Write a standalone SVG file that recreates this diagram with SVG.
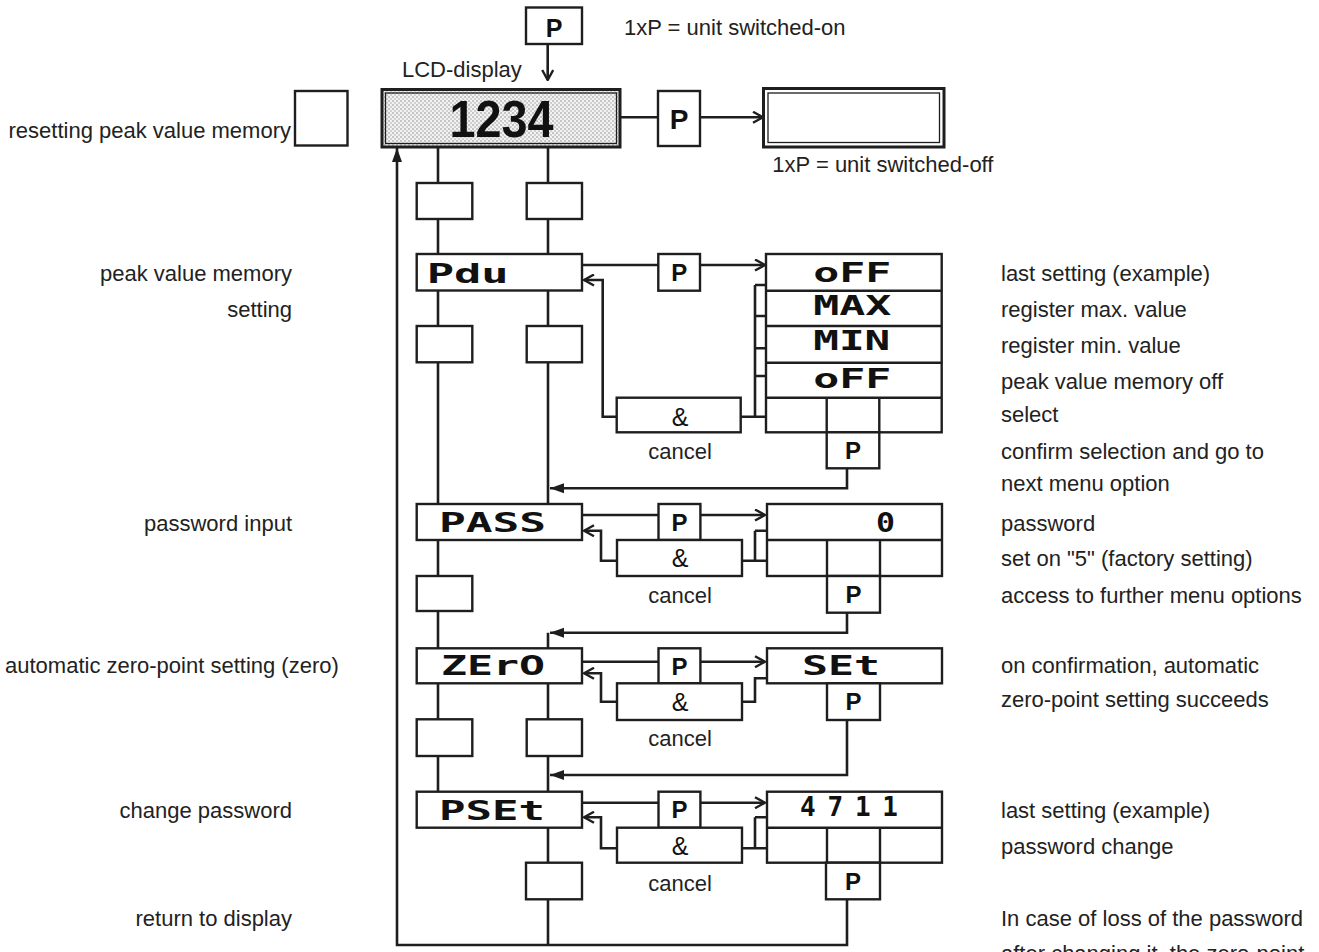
<svg xmlns="http://www.w3.org/2000/svg" width="1319" height="952" viewBox="0 0 1319 952">
<style>
.ln{fill:none;stroke:#1e1e1e;stroke-width:2.6}
.bx{fill:#fff;stroke:#1e1e1e;stroke-width:2.4}
.in{fill:none;stroke:#1e1e1e;stroke-width:1.3}
.t{font-family:"Liberation Sans",Arial,sans-serif;font-size:22px;fill:#222}
.e{text-anchor:end}
.c{text-anchor:middle}
.pk{font-family:"Liberation Sans",Arial,sans-serif;font-size:24px;font-weight:bold;fill:#111;text-anchor:middle}
.amp{font-family:"Liberation Sans",Arial,sans-serif;font-size:25px;fill:#111;text-anchor:middle}
.seg{font-family:"DejaVu Sans Mono",monospace;font-weight:bold;font-size:26px;fill:#111}
</style>
<defs>
<pattern id="dots" width="4" height="4" patternUnits="userSpaceOnUse">
<rect width="4" height="4" fill="#f2f2f2"/>
<circle cx="1" cy="1" r="0.8" fill="#8c8c8c"/>
<circle cx="3" cy="3" r="0.8" fill="#a6a6a6"/>
</pattern>
<marker id="open" markerUnits="userSpaceOnUse" markerWidth="13" markerHeight="13" viewBox="0 0 13 13" refX="12" refY="6.5" orient="auto">
<path d="M2,1 L12,6.5 L2,12" fill="none" stroke="#1e1e1e" stroke-width="2.4"/>
</marker>
<marker id="fill" markerUnits="userSpaceOnUse" markerWidth="16" markerHeight="12" viewBox="0 0 16 12" refX="15" refY="6" orient="auto">
<path d="M1,1 L15,6 L1,11 z" fill="#1e1e1e"/>
</marker>
</defs>
<rect width="1319" height="952" fill="#fff"/>

<g id="connectors">
<path class="ln" d="M547.7,44 V80" marker-end="url(#open)"/>
<path class="ln" d="M620,117.3 H658"/>
<path class="ln" d="M700,117.3 H763" marker-end="url(#open)"/>
<path class="ln" d="M438,147 V791.7"/>
<path class="ln" d="M548,147 V504"/>
<path class="ln" d="M548,632.7 V945"/>
<path class="ln" d="M847,899.3 V945 H397 V148" marker-end="url(#fill)"/>
<path class="ln" d="M582,265 H658.3"/>
<path class="ln" d="M700,265 H765" marker-end="url(#open)"/>
<path class="ln" d="M616.7,416.7 H602.7 V280 H584" marker-end="url(#open)"/>
<path class="ln" d="M740.7,416.7 H766 M755,285 V416.7 M755,285 H766 M755,316 H766 M755,348.3 H766 M755,376 H766"/>
<path class="ln" d="M847,468.3 V488.3 H550" marker-end="url(#fill)"/>
<path class="ln" d="M582,515 H658.5"/>
<path class="ln" d="M700.4,515 H765" marker-end="url(#open)"/>
<path class="ln" d="M617,560.7 H601 V530.7 H584" marker-end="url(#open)"/>
<path class="ln" d="M742,560.7 H767 M755,530.7 V560.7 M755,530.7 H767"/>
<path class="ln" d="M847,612.7 V632.7 H550" marker-end="url(#fill)"/>
<path class="ln" d="M582,661.7 H658.5"/>
<path class="ln" d="M700.4,661.7 H765" marker-end="url(#open)"/>
<path class="ln" d="M617,701.7 H601 V673.3 H584" marker-end="url(#open)"/>
<path class="ln" d="M742,701.7 H755 V678.3 H767"/>
<path class="ln" d="M847,720 V775 H550" marker-end="url(#fill)"/>
<path class="ln" d="M582,802.7 H658.5"/>
<path class="ln" d="M700.4,802.7 H765" marker-end="url(#open)"/>
<path class="ln" d="M617,848.3 H601 V817.3 H584" marker-end="url(#open)"/>
<path class="ln" d="M742,848.3 H767 M755,817.3 V848.3 M755,817.3 H767"/>
</g>

<g id="top-p"><rect class="bx" x="526" y="7.5" width="56" height="36.5"/><text class="pk" x="554" y="37" style="font-size:25px">P</text></g>
<g id="lcd">
<rect x="382" y="89.5" width="238" height="57.5" fill="url(#dots)" stroke="#1e1e1e" stroke-width="3"/>
<rect class="in" x="385.5" y="93" width="231" height="50.5"/>
<text x="449.6" y="137.3" textLength="104" lengthAdjust="spacingAndGlyphs" style="font-family:'Liberation Sans',Arial,sans-serif;font-size:52px;font-weight:bold;fill:#111">1234</text>
</g>
<g id="p-off"><rect class="bx" x="658" y="91" width="42" height="55"/><text class="pk" x="679" y="129" style="font-size:28px">P</text></g>
<g id="off-box">
<rect x="763.5" y="88.5" width="180.5" height="58.5" fill="#fff" stroke="#1e1e1e" stroke-width="3"/>
<rect class="in" x="768" y="93" width="171.5" height="49.5"/>
</g>
<g id="reset-box"><rect class="bx" x="295" y="91" width="52.5" height="54.5"/></g>

<g id="col-boxes">
<rect class="bx" x="416.7" y="183" width="55.6" height="36"/>
<rect class="bx" x="526.7" y="183" width="55.3" height="36"/>
<rect class="bx" x="416.7" y="326" width="55.6" height="36.3"/>
<rect class="bx" x="526.7" y="326" width="55.3" height="36.3"/>
<rect class="bx" x="416.7" y="576" width="55.6" height="35"/>
<rect class="bx" x="416.7" y="719.3" width="55.6" height="36.7"/>
<rect class="bx" x="526.7" y="719.3" width="55.3" height="36.7"/>
<rect class="bx" x="526" y="862.7" width="56" height="36.6"/>
</g>

<g id="pdu">
<rect class="bx" x="416.7" y="254" width="165.3" height="36.5"/>
<text class="seg" x="426.7" y="282.7" textLength="82" lengthAdjust="spacingAndGlyphs">Pdu</text>
</g>
<g id="pdu-p"><rect class="bx" x="658.3" y="254" width="41.7" height="36.7"/><text class="pk" x="679.2" y="281">P</text></g>
<g id="pdu-and"><rect class="bx" x="616.7" y="397.7" width="124" height="34.6"/><text class="amp" x="680" y="426">&amp;</text></g>
<g id="pdu-opts">
<rect class="bx" x="766" y="254" width="175.7" height="178.3"/>
<path class="ln" d="M766,290.7 H941.7 M766,326 H941.7 M766,362.7 H941.7 M766,397.7 H941.7 M826.7,397.7 V432.3 M879.3,397.7 V432.3" style="stroke-width:2.4"/>
<text class="seg" x="813.3" y="281.7" textLength="78" lengthAdjust="spacingAndGlyphs">oFF</text>
<text class="seg" x="813.3" y="315" textLength="78" lengthAdjust="spacingAndGlyphs">MAX</text>
<text class="seg" x="813.3" y="350" textLength="77" lengthAdjust="spacingAndGlyphs">MIN</text>
<text class="seg" x="813.3" y="388" textLength="78" lengthAdjust="spacingAndGlyphs">oFF</text>
</g>
<g id="pdu-p2"><rect class="bx" x="826.7" y="432.3" width="52.6" height="36"/><text class="pk" x="853" y="459">P</text></g>

<g id="pass">
<rect class="bx" x="416.7" y="504" width="165.3" height="36"/>
<text class="seg" x="439" y="531.7" textLength="107" lengthAdjust="spacingAndGlyphs">PASS</text>
</g>
<g id="pass-p"><rect class="bx" x="658.5" y="504" width="41.9" height="36"/><text class="pk" x="679.4" y="530.6">P</text></g>
<g id="pass-and"><rect class="bx" x="617" y="540" width="125" height="36"/><text class="amp" x="680" y="567">&amp;</text></g>
<g id="pass-opts">
<rect class="bx" x="767" y="504" width="175" height="72"/>
<path class="ln" d="M767,540 H942 M827,540 V576 M880,540 V576" style="stroke-width:2.4"/>
<text class="seg" x="876" y="531.7" textLength="19" lengthAdjust="spacingAndGlyphs">0</text>
</g>
<g id="pass-p2"><rect class="bx" x="827" y="576" width="53" height="36.7"/><text class="pk" x="853.5" y="603">P</text></g>

<g id="zero">
<rect class="bx" x="416.7" y="648.3" width="165.3" height="35"/>
<text class="seg" x="441" y="675" textLength="104" lengthAdjust="spacingAndGlyphs">ZErO</text>
</g>
<g id="zero-p"><rect class="bx" x="658.5" y="648.3" width="41.9" height="35"/><text class="pk" x="679.4" y="674.5">P</text></g>
<g id="zero-and"><rect class="bx" x="617" y="683.3" width="125" height="36.7"/><text class="amp" x="680" y="711">&amp;</text></g>
<g id="zero-set">
<rect class="bx" x="767" y="648.3" width="175" height="35"/>
<text class="seg" x="802" y="675" textLength="78" lengthAdjust="spacingAndGlyphs">SEt</text>
</g>
<g id="zero-p2"><rect class="bx" x="827" y="683.3" width="53" height="36.7"/><text class="pk" x="853.5" y="710.3">P</text></g>

<g id="pset">
<rect class="bx" x="416.7" y="791.7" width="165.3" height="36"/>
<text class="seg" x="439" y="820" textLength="106" lengthAdjust="spacingAndGlyphs">PSEt</text>
</g>
<g id="pset-p"><rect class="bx" x="658.5" y="791.7" width="41.9" height="36"/><text class="pk" x="679.4" y="818.3">P</text></g>
<g id="pset-and"><rect class="bx" x="617" y="827.7" width="125" height="35"/><text class="amp" x="680" y="854.5">&amp;</text></g>
<g id="pset-opts">
<rect class="bx" x="767" y="791.7" width="175" height="71"/>
<path class="ln" d="M767,827.7 H942 M827,827.7 V862.7 M880,827.7 V862.7" style="stroke-width:2.4"/>
<text class="seg" x="800" y="815.5" textLength="98" lengthAdjust="spacing">4711</text>
</g>
<g id="pset-p2"><rect class="bx" x="826" y="862.7" width="54" height="36.6"/><text class="pk" x="853" y="889.6">P</text></g>

<g id="labels">
<text class="t" x="624" y="35">1xP = unit switched-on</text>
<text class="t" x="402" y="76.7">LCD-display</text>
<text class="t" x="772.3" y="171.5">1xP = unit switched-off</text>
<text class="t e" x="291" y="138">resetting peak value memory</text>
<text class="t e" x="292" y="280.5">peak value memory</text>
<text class="t e" x="292" y="317">setting</text>
<text class="t e" x="292" y="530.5">password input</text>
<text class="t" x="5" y="673.3">automatic zero-point setting (zero)</text>
<text class="t e" x="292" y="817.5">change password</text>
<text class="t e" x="292" y="925.5">return to display</text>
<text class="t c" x="680" y="458.7">cancel</text>
<text class="t c" x="680" y="603">cancel</text>
<text class="t c" x="680" y="745.5">cancel</text>
<text class="t c" x="680" y="890.5">cancel</text>
<text class="t" x="1001" y="280.5">last setting (example)</text>
<text class="t" x="1001" y="317">register max. value</text>
<text class="t" x="1001" y="353">register min. value</text>
<text class="t" x="1001" y="389">peak value memory off</text>
<text class="t" x="1001" y="422">select</text>
<text class="t" x="1001" y="459">confirm selection and go to</text>
<text class="t" x="1001" y="491">next menu option</text>
<text class="t" x="1001" y="530.5">password</text>
<text class="t" x="1001" y="566">set on "5" (factory setting)</text>
<text class="t" x="1001" y="603">access to further menu options</text>
<text class="t" x="1001" y="673.3">on confirmation, automatic</text>
<text class="t" x="1001" y="707">zero-point setting succeeds</text>
<text class="t" x="1001" y="817.5">last setting (example)</text>
<text class="t" x="1001" y="854">password change</text>
<text class="t" x="1001" y="925.7">In case of loss of the password</text>
<text class="t" x="1001" y="961">after changing it, the zero-point</text>
</g>
</svg>
